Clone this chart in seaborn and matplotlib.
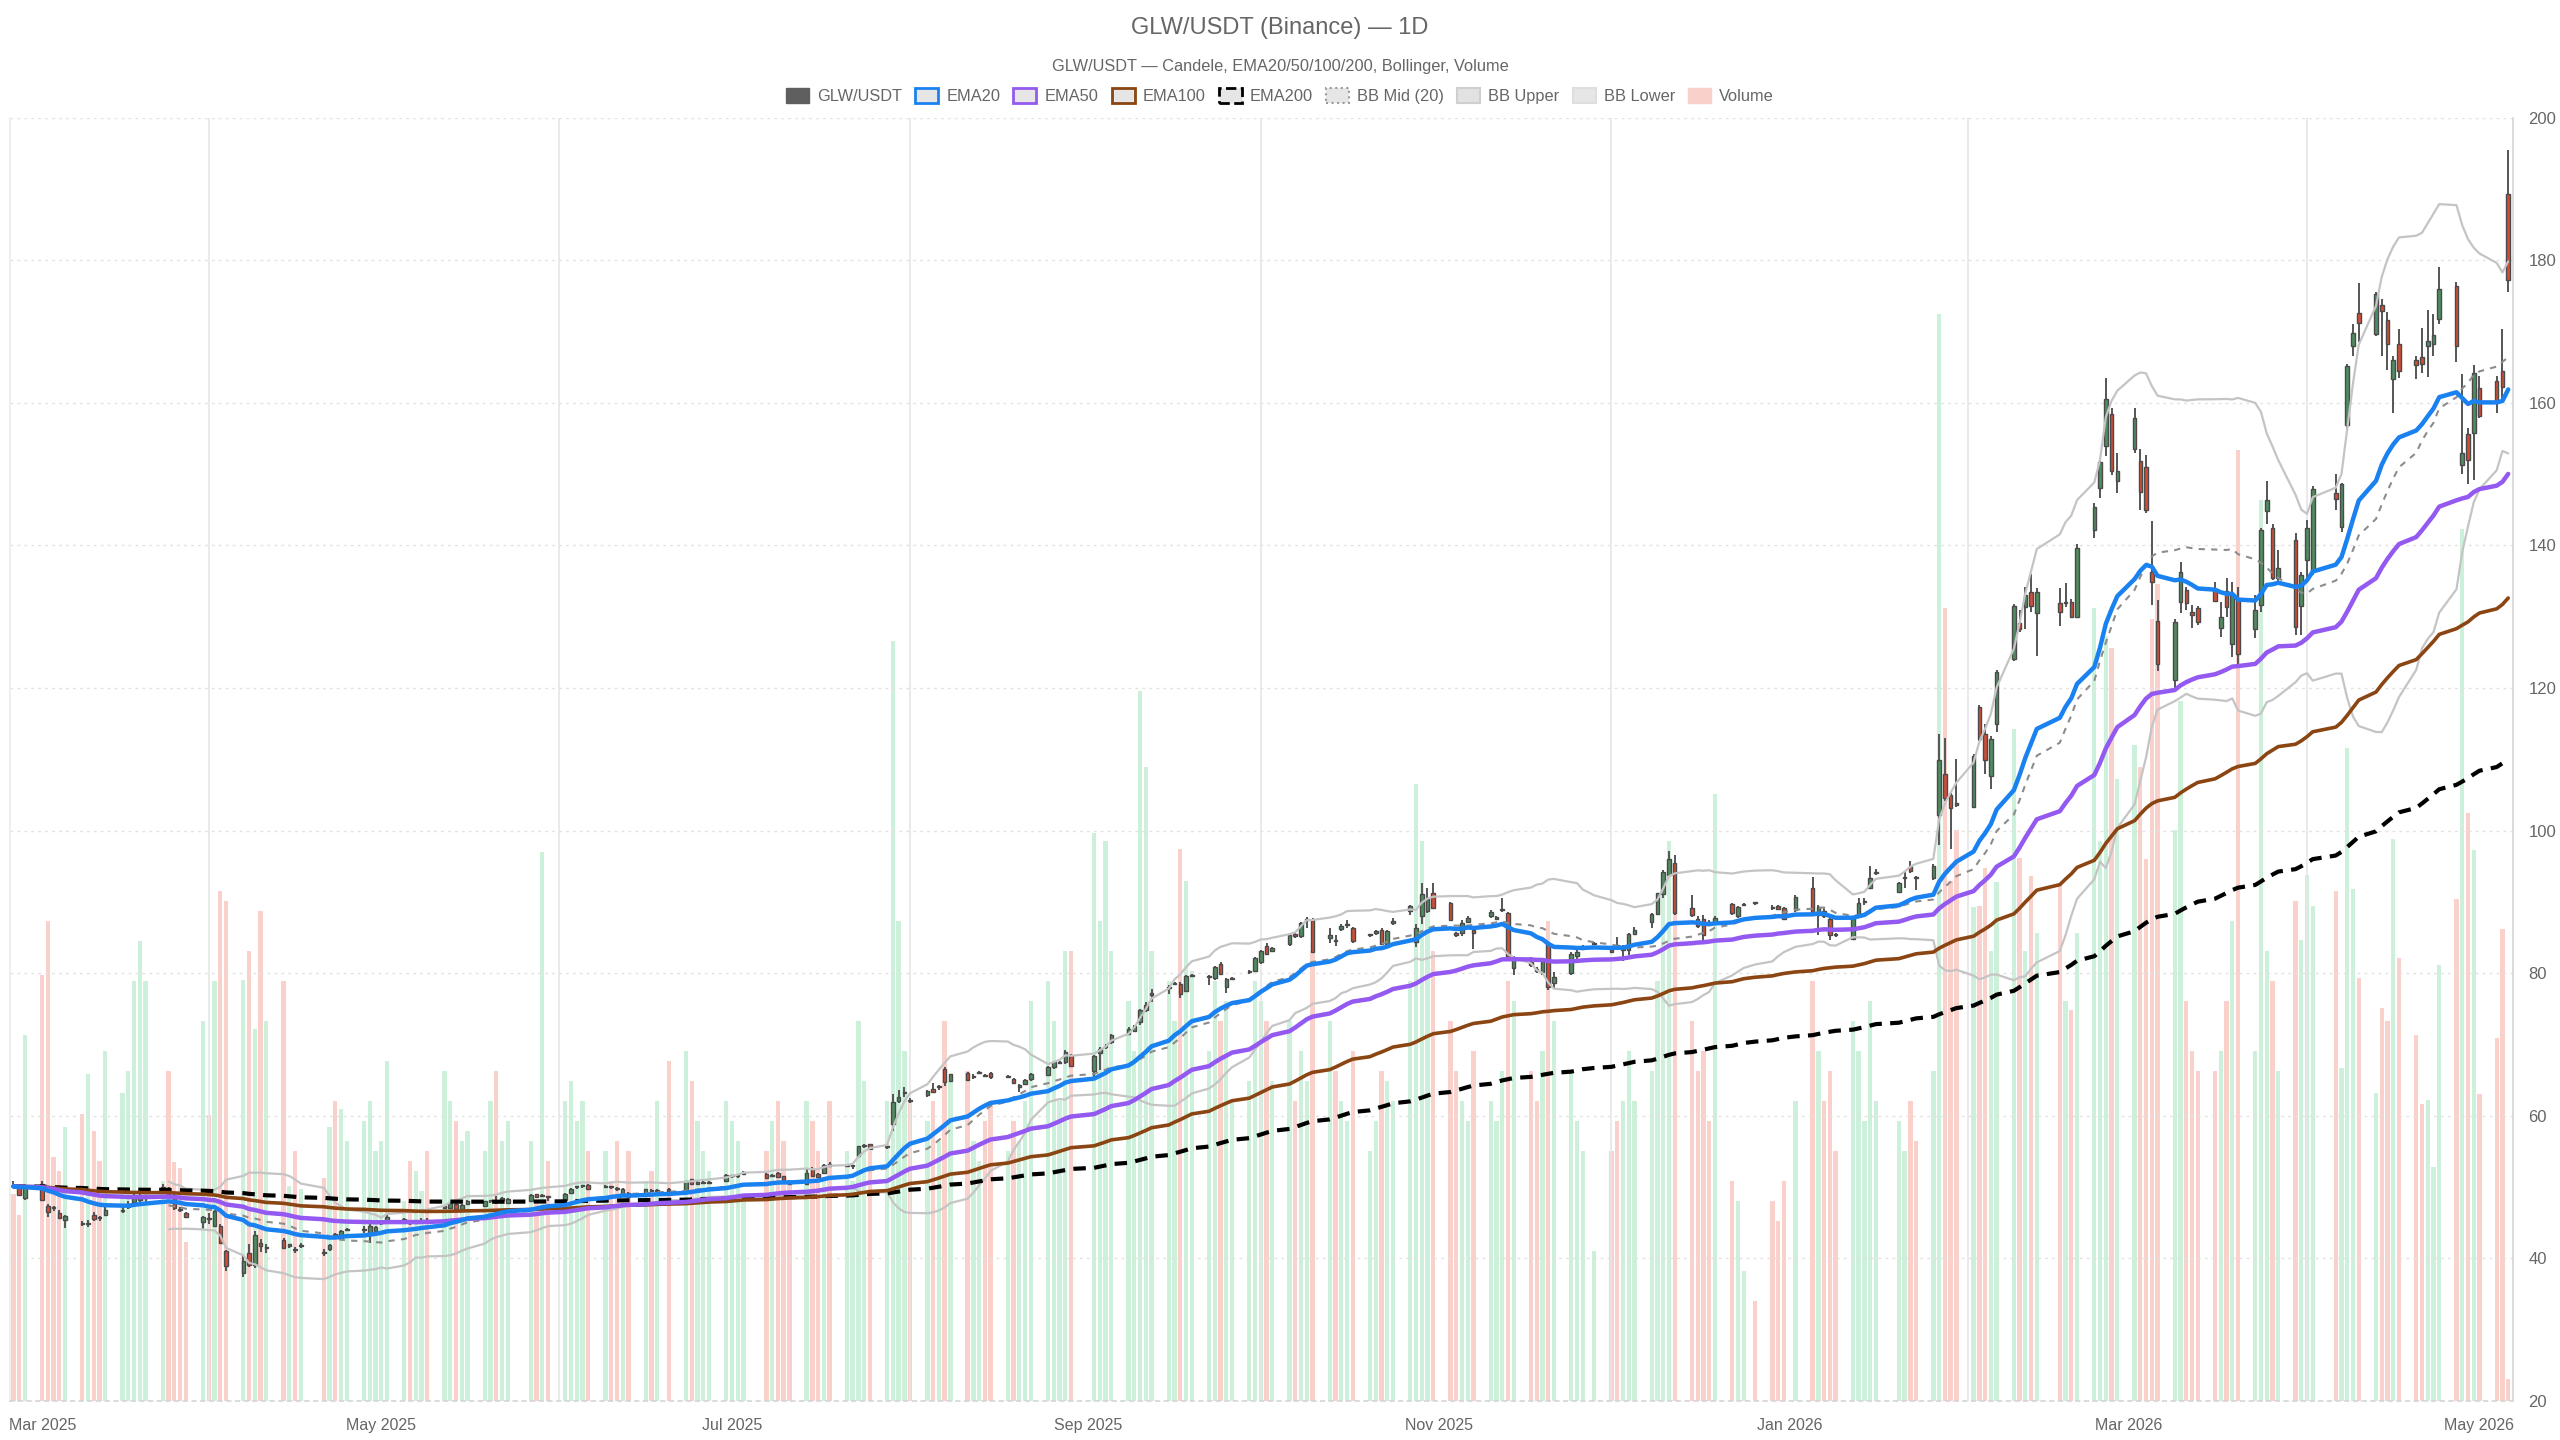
import numpy as np
import pandas as pd
import matplotlib
matplotlib.use('Agg')
import matplotlib.pyplot as plt
import matplotlib.dates as mdates
from matplotlib.patches import Patch
from matplotlib.transforms import ScaledTranslation
import seaborn as sns

# trading days (NYSE calendar) from 26 Feb 2025 to 6 May 2026
holidays = ['2025-04-18', '2025-05-26', '2025-06-19', '2025-07-04', '2025-09-01',
            '2025-11-27', '2025-12-25', '2026-01-01', '2026-01-19', '2026-02-16',
            '2026-04-03']
dates = pd.bdate_range('2025-02-26', '2026-05-06', freq='C', holidays=holidays)

opens = [
    50.3, 50.0, 48.5,  # feb 25
    50.5, 47.4, 47.1, 46.3, 45.4, 45.0, 44.8, 46.1, 45.7, 46.1, 46.7, 47.2, 47.9, 48.2, 48.4,
    49.7, 49.8, 48.8, 46.9, 46.3, 45.1,  # mar
    45.6, 44.6, 44.6, 41.0, 37.9, 40.7, 39.1, 42.1, 41.4, 42.6, 41.8, 41.3, 41.7,
    40.9, 41.3, 43.4, 42.7, 44.0, 44.0, 43.3, 43.9,  # apr
    44.9, 45.2, 45.4, 45.0, 45.0, 45.3, 45.4, 47.0, 47.1, 47.6, 46.9, 47.6,
    47.3, 48.0, 48.0, 48.2, 47.8, 48.0, 49.0, 48.8, 48.7,  # may
    48.2, 49.2, 50.0, 50.1, 50.3, 50.0, 50.1, 49.8, 49.2, 49.2, 49.1, 49.6, 49.5, 49.8,
    49.4, 51.1, 50.5, 50.6, 50.6, 50.9,  # jun
    51.5, 51.5, 51.9, 51.8, 51.6, 52.0, 51.5, 50.9, 50.4, 52.6, 51.9, 52.0, 53.3,
    53.0, 52.9, 54.3, 55.7, 56.0, 55.6, 58.8, 62.1, 63.2,  # jul
    62.2, 62.9, 63.8, 64.0, 66.5, 64.9, 66.0, 65.4, 66.0, 65.7, 66.0,
    65.4, 65.2, 64.1, 64.5, 65.1, 65.7, 66.8, 67.4, 67.5, 68.4,  # aug
    66.3, 68.8, 69.6, 70.3, 71.5, 71.9, 73.1, 74.9, 77.0, 77.9, 78.5, 78.5, 77.5, 79.6,
    79.4, 79.3, 81.3, 78.1, 79.2, 80.1, 80.3,  # sep
    81.5, 83.8, 83.1, 84.1, 85.5, 85.2, 87.5, 87.5, 85.0, 84.7, 86.2, 86.8, 86.3,
    85.3, 85.6, 86.1, 84.1, 87.0, 88.7, 84.4, 88.0, 88.7, 91.3,  # oct
    89.8, 85.6, 85.6, 87.2, 86.0, 88.0, 87.6, 88.8, 88.4, 80.7,
    81.5, 80.6, 80.2, 84.3, 78.6, 80.0, 82.4, 83.4, 84.1,  # nov
    83.3, 84.0, 83.3, 83.3, 85.5, 87.2, 88.3, 91.1, 93.8, 95.5, 89.2, 87.6, 87.6, 87.0, 87.0,
    89.7, 88.0, 89.5, 89.9, 89.2, 89.4, 89.1,  # dec
    88.8, 92.0, 88.1, 88.7, 87.6, 85.5, 84.8, 88.0, 90.0, 92.0, 94.0,
    91.4, 93.3, 95.0, 93.4, 93.3, 102.2, 107.9, 105.0, 103.8,  # jan 26
    103.3, 117.3, 113.6, 107.6, 115.0, 124.1, 129.1, 131.4, 133.4, 130.5,
    131.9, 131.9, 132.0, 130.0, 142.2, 148.1, 154.0, 158.4, 149.0,  # feb
    153.5, 151.8, 151.0, 136.3, 129.4, 121.1, 132.0, 133.7, 130.6, 131.2,
    133.9, 128.4, 133.6, 126.2, 132.5, 128.2, 131.7, 144.8, 142.4, 135.4, 140.8, 131.5,  # mar
    138.0, 136.4, 147.4, 142.6, 156.9, 167.9, 172.6, 169.6, 173.7, 171.6, 163.3, 168.2,
    166.0, 166.4, 168.0, 168.2, 171.7, 176.3, 151.2, 155.6, 155.8,  # apr
    162.0, 163.1, 164.4, 189.3,  # may
]
highs = [
    50.8, 50.2, 50.1,
    50.8, 47.6, 47.4, 46.8, 46.1, 45.3, 45.4, 46.5, 46.0, 47.2, 47.5, 48.0, 49.1, 49.0, 48.7,
    50.4, 50.0, 49.0, 47.2, 46.5, 46.0,
    46.3, 46.8, 44.8, 41.2, 40.4, 42.0, 43.8, 42.7, 42.0, 42.8, 42.0, 41.6, 42.1,
    41.3, 42.0, 43.6, 44.0, 44.3, 44.6, 45.3, 44.6,
    45.4, 46.1, 45.6, 45.2, 45.4, 45.6, 45.6, 47.5, 47.9, 47.8, 47.6, 48.2,
    48.1, 48.2, 48.8, 48.6, 48.4, 49.0, 49.1, 49.0, 48.8,
    49.2, 49.9, 50.2, 50.3, 50.5, 50.3, 50.2, 50.0, 49.9, 49.3, 49.8, 49.7, 49.7, 49.9,
    50.9, 51.2, 50.8, 50.8, 50.9, 51.8,
    51.7, 51.7, 52.2, 52.0, 51.9, 52.1, 51.6, 51.0, 52.6, 52.8, 52.0, 53.2, 53.5,
    53.2, 53.1, 55.8, 56.0, 56.1, 55.8, 63.1, 63.6, 64.0,
    62.5, 63.6, 64.6, 64.3, 66.8, 65.9, 66.1, 65.8, 66.3, 65.9, 66.1,
    65.7, 65.3, 64.5, 65.1, 66.0, 67.0, 67.7, 67.7, 69.2, 68.6,
    68.5, 69.7, 70.0, 71.4, 72.4, 72.8, 75.0, 76.0, 77.8, 78.3, 78.8, 78.7, 79.8, 79.9,
    79.8, 81.0, 81.5, 79.3, 79.5, 80.4, 82.2,
    83.2, 84.2, 83.7, 85.5, 85.8, 87.2, 87.9, 87.8, 86.4, 85.4, 86.9, 87.4, 86.5,
    85.5, 86.0, 86.4, 86.0, 87.7, 89.6, 86.9, 92.6, 92.0, 92.6,
    90.0, 85.8, 87.5, 88.0, 86.2, 88.8, 88.0, 90.5, 88.6, 82.4,
    82.2, 80.8, 81.9, 84.5, 80.1, 82.9, 83.7, 83.9, 84.4,
    83.5, 85.1, 83.9, 85.6, 86.5, 88.4, 91.3, 94.4, 97.2, 96.6, 91.0, 88.0, 88.1, 87.4, 88.0,
    89.9, 89.4, 89.8, 90.0, 89.5, 89.5, 89.3,
    90.9, 93.5, 89.6, 89.1, 87.8, 85.7, 87.9, 90.6, 90.5, 95.0, 94.6,
    92.8, 94.2, 95.8, 93.6, 95.3, 113.6, 113.0, 105.3, 110.0,
    110.7, 117.6, 115.0, 113.2, 122.5, 131.8, 131.0, 134.1, 136.0, 134.0,
    134.0, 134.7, 132.5, 140.2, 146.0, 152.3, 163.5, 159.2, 153.0,
    159.3, 153.5, 152.6, 143.4, 132.3, 129.6, 137.7, 134.1, 131.7, 131.5,
    134.9, 132.0, 135.4, 134.8, 134.2, 133.0, 142.4, 149.0, 143.0, 139.3, 141.7, 136.2,
    143.5, 148.3, 150.0, 148.8, 165.5, 171.0, 176.8, 175.5, 174.5, 172.7, 166.5, 170.4,
    166.5, 170.5, 173.0, 172.5, 179.1, 177.0, 164.0, 156.5, 165.3,
    163.8, 163.8, 170.3, 195.5,
]
lows = [
    49.9, 48.8, 48.2,
    48.0, 45.8, 46.6, 45.5, 44.2, 44.5, 44.4, 45.3, 45.3, 45.9, 46.3, 46.9, 47.6, 47.9, 47.8,
    49.5, 48.6, 46.8, 46.5, 45.7, 44.0,
    44.8, 44.4, 42.0, 38.3, 37.4, 38.8, 38.7, 40.9, 40.8, 41.3, 41.5, 40.8, 41.4,
    40.3, 41.1, 42.8, 42.6, 43.8, 43.6, 42.2, 43.7,
    44.7, 45.0, 45.1, 44.7, 44.8, 45.1, 45.1, 46.9, 47.0, 46.8, 46.7, 47.5,
    47.2, 47.8, 47.6, 48.0, 47.6, 47.9, 48.5, 48.6, 48.1,
    48.1, 49.1, 49.8, 49.9, 49.7, 49.9, 49.8, 49.5, 49.1, 48.5, 49.0, 49.3, 49.3, 49.3,
    49.3, 50.4, 50.4, 50.4, 50.5, 50.8,
    51.3, 51.3, 51.8, 51.2, 51.5, 51.3, 50.9, 50.4, 50.3, 51.4, 51.3, 51.9, 52.9,
    52.8, 52.6, 54.2, 55.5, 55.2, 55.3, 57.9, 61.8, 62.6,
    61.8, 62.7, 63.2, 63.6, 64.2, 64.8, 64.9, 65.2, 65.8, 65.4, 65.2,
    65.3, 64.5, 63.3, 64.4, 64.9, 65.6, 66.6, 67.3, 67.3, 66.9,
    65.3, 66.4, 69.4, 70.1, 71.3, 71.7, 72.8, 74.6, 75.9, 77.1, 78.3, 76.5, 77.3, 79.4,
    78.3, 79.1, 79.8, 77.2, 79.0, 79.9, 80.2,
    81.3, 82.6, 82.9, 83.8, 85.0, 85.0, 86.3, 82.9, 84.2, 83.8, 85.9, 86.4, 84.3,
    85.1, 85.4, 83.9, 83.8, 86.8, 88.2, 83.7, 86.9, 88.5, 89.0,
    87.3, 85.1, 85.2, 87.0, 83.4, 87.8, 87.4, 88.6, 82.0, 79.7,
    80.9, 80.0, 79.8, 77.7, 77.8, 79.7, 81.5, 83.2, 83.9,
    82.8, 83.3, 81.7, 82.6, 85.3, 86.3, 88.1, 90.5, 93.5, 88.1, 87.9, 86.4, 84.4, 86.6, 86.9,
    88.2, 87.8, 89.4, 89.6, 88.9, 88.9, 87.4,
    88.6, 88.4, 85.3, 87.8, 84.6, 85.1, 84.6, 87.8, 89.6, 91.8, 93.7,
    91.2, 92.0, 94.1, 91.6, 93.1, 98.0, 104.2, 97.4, 103.3,
    103.1, 112.5, 108.0, 105.8, 113.8, 123.8, 127.8, 128.3, 130.7, 124.5,
    128.7, 131.3, 129.8, 129.8, 141.0, 146.6, 152.5, 149.8, 147.3,
    152.9, 145.0, 144.5, 131.7, 122.4, 120.0, 130.5, 130.9, 128.4, 128.8,
    132.0, 127.2, 130.0, 124.4, 122.8, 127.0, 130.6, 143.0, 135.2, 135.0, 127.4, 127.4,
    134.9, 135.9, 145.0, 141.8, 156.0, 166.5, 168.5, 169.4, 166.6, 164.6, 158.5, 163.5,
    163.3, 164.1, 163.6, 166.6, 171.0, 165.7, 150.0, 148.6, 149.2,
    157.8, 158.6, 160.4, 175.5,
]
closes = [
    50.1, 48.9, 50.0,
    48.2, 46.5, 47.0, 45.6, 46.0, 44.8, 45.0, 45.5, 45.6, 46.8, 46.8, 47.3, 48.7, 48.6, 48.4,
    50.0, 48.85, 47.1, 46.8, 45.8, 45.8,
    45.5, 46.6, 42.2, 39.0, 39.6, 39.1, 43.3, 41.7, 41.5, 41.5, 41.8, 41.2, 41.8,
    40.8, 41.9, 43.0, 43.9, 44.1, 44.1, 44.5, 44.4,
    45.0, 45.8, 45.4, 44.9, 45.1, 45.4, 45.3, 47.3, 47.7, 46.9, 47.5, 48.1,
    48.0, 48.0, 47.9, 48.4, 48.3, 48.9, 48.6, 48.9, 48.6,
    49.1, 49.8, 50.1, 50.1, 49.8, 50.1, 50.0, 49.7, 49.8, 48.6, 49.7, 49.5, 49.5, 49.4,
    50.8, 50.5, 50.6, 50.6, 50.7, 51.7,
    51.5, 51.5, 52.0, 51.3, 51.7, 51.4, 51.0, 50.5, 52.0, 51.5, 51.4, 53.1, 53.0,
    53.0, 52.9, 55.7, 55.9, 55.3, 55.6, 62.0, 62.7, 63.3,
    62.1, 63.5, 63.3, 64.0, 64.8, 65.8, 65.0, 65.6, 66.1, 65.6, 65.4,
    65.5, 64.6, 64.3, 65.0, 65.9, 66.9, 67.5, 67.5, 69.0, 67.0,
    68.4, 69.4, 69.8, 71.3, 72.2, 72.6, 74.9, 75.5, 77.1, 78.0, 78.6, 77.1, 79.6, 79.7,
    79.5, 80.9, 79.9, 79.2, 79.3, 80.2, 82.1,
    83.1, 82.7, 83.5, 85.3, 85.2, 87.1, 87.6, 83.0, 85.3, 84.5, 86.6, 86.9, 84.5,
    85.3, 85.9, 84.1, 85.9, 87.3, 89.4, 86.4, 91.1, 90.4, 89.2,
    87.5, 85.3, 87.0, 87.7, 85.7, 88.6, 87.9, 89.0, 82.3, 82.1,
    81.2, 80.3, 81.7, 78.1, 79.5, 82.7, 83.0, 83.6, 84.2,
    83.0, 83.7, 83.7, 85.5, 86.1, 88.3, 91.2, 94.2, 96.0, 88.4, 88.1, 86.6, 85.3, 86.8, 87.8,
    88.4, 89.3, 89.6, 89.8, 89.1, 89.0, 87.6,
    90.7, 88.6, 89.3, 88.0, 85.3, 85.3, 87.8, 89.8, 90.1, 93.4, 94.1,
    92.6, 93.4, 94.3, 93.3, 95.0, 109.9, 104.5, 103.1, 103.6,
    110.5, 112.9, 109.9, 112.9, 122.3, 131.5, 128.2, 133.0, 131.5, 133.5,
    130.6, 132.1, 130.0, 139.6, 145.4, 151.7, 160.5, 150.4, 150.4,
    157.9, 147.5, 145.0, 134.9, 123.4, 129.2, 136.3, 131.9, 130.2, 129.2,
    132.2, 129.9, 131.3, 133.0, 124.8, 131.0, 142.1, 146.3, 135.4, 136.8, 128.6, 135.9,
    142.4, 147.9, 146.5, 148.6, 165.1, 169.8, 171.2, 175.2, 172.8, 168.2, 166.0, 164.4,
    165.3, 165.4, 168.7, 169.5, 175.9, 168.0, 153.0, 151.9, 164.2,
    158.2, 160.0, 162.2, 177.2,
]
volumes = [
    207, 186, 366,
    426, 480, 244, 230, 274, 287, 327, 270, 240, 350, 308, 330, 420, 460, 420,
    220, 330, 239, 233, 159, 380,
    286, 420, 510, 500, 421, 450, 372, 490, 380, 420, 215, 250, 212,
    223, 274, 300, 292, 260, 280, 300, 250,
    260, 340, 200, 240, 230, 210, 250, 330, 300, 280, 260, 270,
    250, 300, 330, 260, 280, 260, 200, 549, 240,
    300, 320, 280, 300, 250, 250, 220, 260, 200, 250, 220, 230, 300, 340,
    350, 320, 280, 250, 230, 300,
    280, 260, 200, 250, 280, 300, 260, 220, 300, 280, 250, 220, 300,
    250, 220, 380, 320, 250, 300, 760, 480, 350,
    300, 280, 300, 260, 380, 320, 330, 260, 240, 280, 300,
    250, 280, 260, 300, 400, 420, 380, 300, 450, 450,
    568, 480, 560, 450, 400, 350, 710, 634, 450, 420, 380, 552, 520, 430,
    350, 420, 380, 400, 300, 320, 420,
    400, 380, 320, 380, 300, 350, 320, 450, 380, 330, 300, 280, 350,
    250, 280, 330, 320, 300, 420, 617, 560, 500, 450,
    380, 330, 300, 280, 350, 300, 280, 330, 420, 400,
    330, 300, 350, 480, 380, 330, 280, 250, 150,
    250, 280, 300, 350, 300, 330, 420, 520, 560, 520, 380, 330, 350, 280, 607,
    220, 200, 130, 100, 200, 180, 220,
    300, 420, 350, 300, 330, 250, 380, 350, 280, 400, 300,
    280, 250, 300, 260, 330, 1087, 793, 520, 571,
    494, 495, 533, 450, 519, 672, 543, 450, 525, 468,
    518, 400, 391, 468, 793, 560, 765, 753, 622,
    656, 634, 542, 782, 817, 571, 700, 400, 350, 330,
    330, 350, 400, 480, 951, 350, 901, 450, 420, 330, 500, 461,
    526, 495, 510, 333, 653, 512, 423, 308, 393, 380, 562, 443,
    366, 297, 301, 234, 436, 502, 872, 588, 551,
    307, 363, 472, 22,
]

for name, arr in [('opens', opens), ('highs', highs), ('lows', lows),
                  ('closes', closes), ('volumes', volumes)]:
    assert len(arr) == len(dates), (name, len(arr), len(dates))

df = pd.DataFrame({'open': opens, 'high': highs, 'low': lows,
                   'close': closes, 'volume': volumes}, index=dates)
df['ema20'] = df['close'].ewm(span=20, adjust=False).mean()
df['ema50'] = df['close'].ewm(span=50, adjust=False).mean()
df['ema100'] = df['close'].ewm(span=100, adjust=False).mean()
df['ema200'] = df['close'].ewm(span=200, adjust=False).mean()
df['bb_mid'] = df['close'].rolling(20).mean()
bb_std = df['close'].rolling(20).std(ddof=0)
df['bb_up'] = df['bb_mid'] + 2 * bb_std
df['bb_lo'] = df['bb_mid'] - 2 * bb_std
up = df['close'] >= df['open']

sns.set_theme(style='white')
plt.rcParams['font.family'] = ['Liberation Sans', 'DejaVu Sans']

UP, DOWN = '#4e8d5e', '#d24d36'
VOL_UP, VOL_DOWN = '#ccf0da', '#fad0cb'
TXT = '#666666'

fig = plt.figure(figsize=(25.6, 14.4), dpi=100)
pos = [10 / 2560, 39 / 1440, 2503 / 2560, 1283.5 / 1440]
ax_vol = fig.add_axes(pos)
ax = fig.add_axes(pos, sharex=ax_vol)
ax_vol.set_zorder(1)
ax.set_zorder(2)
ax.patch.set_visible(False)

# volume (own hidden scale, bottom layer)
ax_vol.bar(df.index, df['volume'], width=0.75,
           color=np.where(up, VOL_UP, VOL_DOWN), linewidth=0)
ax_vol.set_ylim(0, df['volume'].max() / 0.847)
ax_vol.axis('off')

# candles
ax.vlines(df.index, df['low'], df['high'], colors='#555555', linewidth=1.4, zorder=3)
body_lo = np.minimum(df['open'], df['close'])
body_h = np.maximum((df['close'] - df['open']).abs(), 0.15)
ax.bar(df.index, body_h, bottom=body_lo, width=0.62,
       color=np.where(up, UP, DOWN), edgecolor='#4a4a4a', linewidth=1.0, zorder=4)

# bollinger + emas
sns.lineplot(x=df.index, y=df['bb_up'], ax=ax, color='#c4c4c4', linewidth=1.6, zorder=5)
sns.lineplot(x=df.index, y=df['bb_lo'], ax=ax, color='#c4c4c4', linewidth=1.6, zorder=5)
sns.lineplot(x=df.index, y=df['bb_mid'], ax=ax, color='#8c8c8c', linewidth=1.5,
             linestyle=(0, (3, 3)), zorder=5)
sns.lineplot(x=df.index, y=df['ema200'], ax=ax, color='black', linewidth=3,
             linestyle=(0, (3, 2)), zorder=6)
sns.lineplot(x=df.index, y=df['ema100'], ax=ax, color='#8b4513', linewidth=2.6, zorder=6)
sns.lineplot(x=df.index, y=df['ema50'], ax=ax, color='#9359f0', linewidth=3.2, zorder=6)
sns.lineplot(x=df.index, y=df['ema20'], ax=ax, color='#1a82f0', linewidth=3.2, zorder=7)

# axes
ax.set_xlim(df.index[0] - pd.Timedelta(hours=14), df.index[-1] + pd.Timedelta(hours=20))
ax.set_ylim(20, 200)
ax.set_yticks(range(20, 201, 20))
ax.yaxis.tick_right()
ax.set_xlabel('')
ax.set_ylabel('')
ax.tick_params(axis='y', length=0, pad=11, labelsize=12, labelcolor=TXT)
ax.xaxis.set_major_locator(mdates.MonthLocator(bymonth=[1, 3, 5, 7, 9, 11]))
ax.xaxis.set_major_formatter(mdates.DateFormatter('%b %Y'))
ax.xaxis.set_minor_locator(mdates.MonthLocator(bymonth=[2, 4, 6, 8, 10, 12]))
ax.tick_params(axis='x', which='major', length=0, pad=12, labelsize=11.5, labelcolor=TXT)
ax.tick_params(axis='x', which='minor', length=10, width=1, color='#e3e3e3')
ax.grid(axis='y', color='#e2e2e2', linestyle=(0, (2, 3)), linewidth=1)
ax.grid(axis='x', which='minor', color='#e6e6e6', linestyle='-', linewidth=1.2)
ax.grid(axis='x', which='major', visible=False)
ax.spines['top'].set_visible(False)
ax.spines['right'].set_color('#d6d6d6')
ax.spines['left'].set_color('#ececec')
ax.spines['bottom'].set_color('#d6d6d6')
ax.spines['bottom'].set_linestyle((0, (2, 3)))
first = ax.get_xticklabels()[0]
first.set_transform(first.get_transform() + ScaledTranslation(0.12, 0, fig.dpi_scale_trans))

# titles
fig.text(0.5, 1 - 28 / 1440, 'GLW/USDT (Binance) — 1D', ha='center', va='center',
         fontsize=17, color=TXT)
fig.text(0.5, 1 - 66 / 1440, 'GLW/USDT — Candele, EMA20/50/100/200, Bollinger, Volume',
         ha='center', va='center', fontsize=11.8, color=TXT)

# legend
box = '#e6e6e6'
handles = [
    Patch(facecolor='#5f5f5f', edgecolor='#5f5f5f', label='GLW/USDT'),
    Patch(facecolor=box, edgecolor='#1a82f0', linewidth=2, label='EMA20'),
    Patch(facecolor=box, edgecolor='#9359f0', linewidth=2, label='EMA50'),
    Patch(facecolor=box, edgecolor='#8b4513', linewidth=2, label='EMA100'),
    Patch(facecolor=box, edgecolor='black', linewidth=2, linestyle='--', label='EMA200'),
    Patch(facecolor=box, edgecolor='#9a9a9a', linewidth=1.5, linestyle=':', label='BB Mid (20)'),
    Patch(facecolor='#e2e2e2', edgecolor='#cfcfcf', linewidth=1.5, label='BB Upper'),
    Patch(facecolor='#e6e6e6', edgecolor='#dedede', linewidth=1.5, label='BB Lower'),
    Patch(facecolor='#f9d0ca', edgecolor='#f9d0ca', label='Volume'),
]
fig.legend(handles=handles, loc='center', bbox_to_anchor=(0.5, 1 - 96 / 1440), ncol=9,
           frameon=False, fontsize=11.8, labelcolor=TXT, handlelength=1.4,
           handleheight=1.0, handletextpad=0.5, columnspacing=0.8)

fig.savefig('out.png', dpi=100)
